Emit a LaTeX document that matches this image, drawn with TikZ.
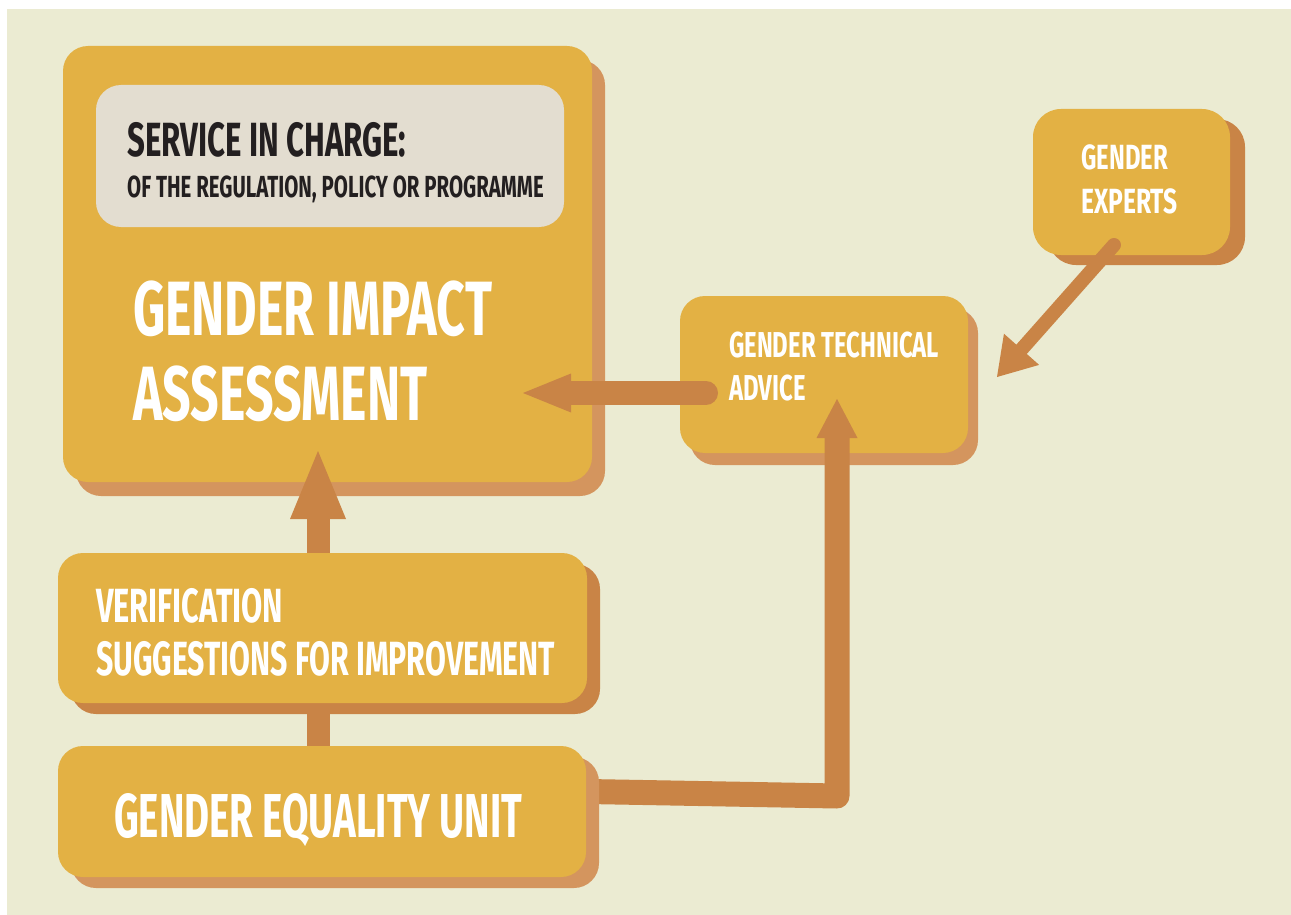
\documentclass[tikz,border=0pt]{standalone}
\usepackage{fontspec}
\newfontfamily\bebas[FakeStretch=0.65]{Fira Sans}
\usetikzlibrary{arrows.meta,shadows,calc}
\definecolor{bgc}{RGB}{235,235,210}
\definecolor{boxc}{RGB}{227,177,68}
\definecolor{shl}{RGB}{212,149,94}
\definecolor{shd}{RGB}{201,132,70}
\definecolor{arrc}{RGB}{201,132,70}
\definecolor{greyc}{RGB}{227,221,208}
\definecolor{darktxt}{RGB}{35,31,32}
\pgfdeclarelayer{front}
\pgfsetlayers{main,front}
\begin{document}
\begin{tikzpicture}[x=1pt,y=-1pt,
  box/.style={rectangle, rounded corners=25pt, fill=boxc, draw=none, inner sep=0pt},
  shad/.style n args={3}{general shadow={fill=#1, shadow xshift=#2, shadow yshift=#3}},
  lbl/.style={inner sep=0pt, anchor=base west, text=white},
  sz/.style={font=\bebas\bfseries\fontsize{#1}{#1}\selectfont},
  conn/.style={draw=arrc, line width=#1},
  tip/.style n args={2}{-{Triangle[length=#1, width=#2, line width=0pt]}}
]
\useasboundingbox (0,0) rectangle (1291,915);
\fill[white] (0,0) rectangle (1291,915);
\fill[bgc] (7,9) rectangle (1291,915);

% main boxes
\node[box, shad={shl}{13pt}{-14pt}, minimum width=529pt, minimum height=436pt] (gia) at (327.5,264) {};
\node[rectangle, rounded corners=25pt, fill=greyc, inner sep=0pt, minimum width=468pt, minimum height=142pt] (svc) at (330,156) {};
\node[box, shad={shl}{10pt}{-12pt}, minimum width=288pt, minimum height=157pt] (gta) at (824,374.5) {};
\node[box, rounded corners=28pt, shad={shd}{15pt}{-10pt}, minimum width=197pt, minimum height=146pt] (exp) at (1131.5,182) {};

% texts
\node[lbl, sz=48, text=darktxt] (t1) at (127,157) {SERVICE IN CHARGE:};
\node[lbl, sz=30.5, text=darktxt] (t2) at (127,197) {\scalebox{1.03}[1]{OF THE REGULATION, POLICY OR PROGRAMME}};
\node[lbl, sz=77] (t3) at (133,335) {GENDER IMPACT};
\node[lbl, sz=77] (t4) at (133,420) {ASSESSMENT};
\node[lbl, sz=36] (t5) at (729,357) {\scalebox{1.02}[1]{GENDER TECHNICAL}};
\node[lbl, sz=36] (t6) at (729,400) {\scalebox{1.02}[1]{ADVICE}};
\node[lbl, sz=35] (t7) at (1081,170) {\scalebox{1.05}[1]{GENDER}};
\node[lbl, sz=35] (t8) at (1081,213) {\scalebox{1.08}[1]{EXPERTS}};

% front boxes
\begin{pgfonlayer}{front}
\node[box, shad={shd}{13pt}{-11pt}, minimum width=529pt, minimum height=150pt] (ver) at (322.5,628) {};
\node[box, shad={shl}{13pt}{-11pt}, minimum width=528pt, minimum height=131pt] (geu) at (322,811.5) {};
\node[lbl, sz=48] (t9) at (96,622) {\scalebox{0.985}[1]{VERIFICATION}};
\node[lbl, sz=48] (t10) at (96,675) {\scalebox{0.97}[1]{SUGGESTIONS FOR IMPROVEMENT}};
\node[lbl, sz=62] (t11) at (114,837) {\scalebox{0.953}[1]{GENDER EQUALITY UNIT}};
\end{pgfonlayer}

% connector anchor points
\coordinate (geuUp) at (318,760);
\coordinate (giaIn) at (318,451);
\coordinate (geuRight) at (560,791);
\coordinate (bend) at (837,796);
\coordinate (gtaIn) at (837,399);
\coordinate (gtaOut) at (706,393);
\coordinate (giaSide) at (523,393);
\coordinate (expOut) at (1114,245);
\coordinate (gtaSide) at (997,377);

% connectors
\draw[conn=23pt, tip={68pt}{56pt}] (geuUp) -- (giaIn);
\draw[conn=25pt, line join=round, tip={39pt}{41pt}] (geuRight) -- (bend) -- (gtaIn);
\draw[conn=24pt, line cap=round, tip={48pt}{39pt}] (gtaOut) -- (giaSide);
\draw[conn=14pt, line cap=round, tip={37pt}{47pt}] (expOut) -- (gtaSide);
\end{tikzpicture}
\end{document}
